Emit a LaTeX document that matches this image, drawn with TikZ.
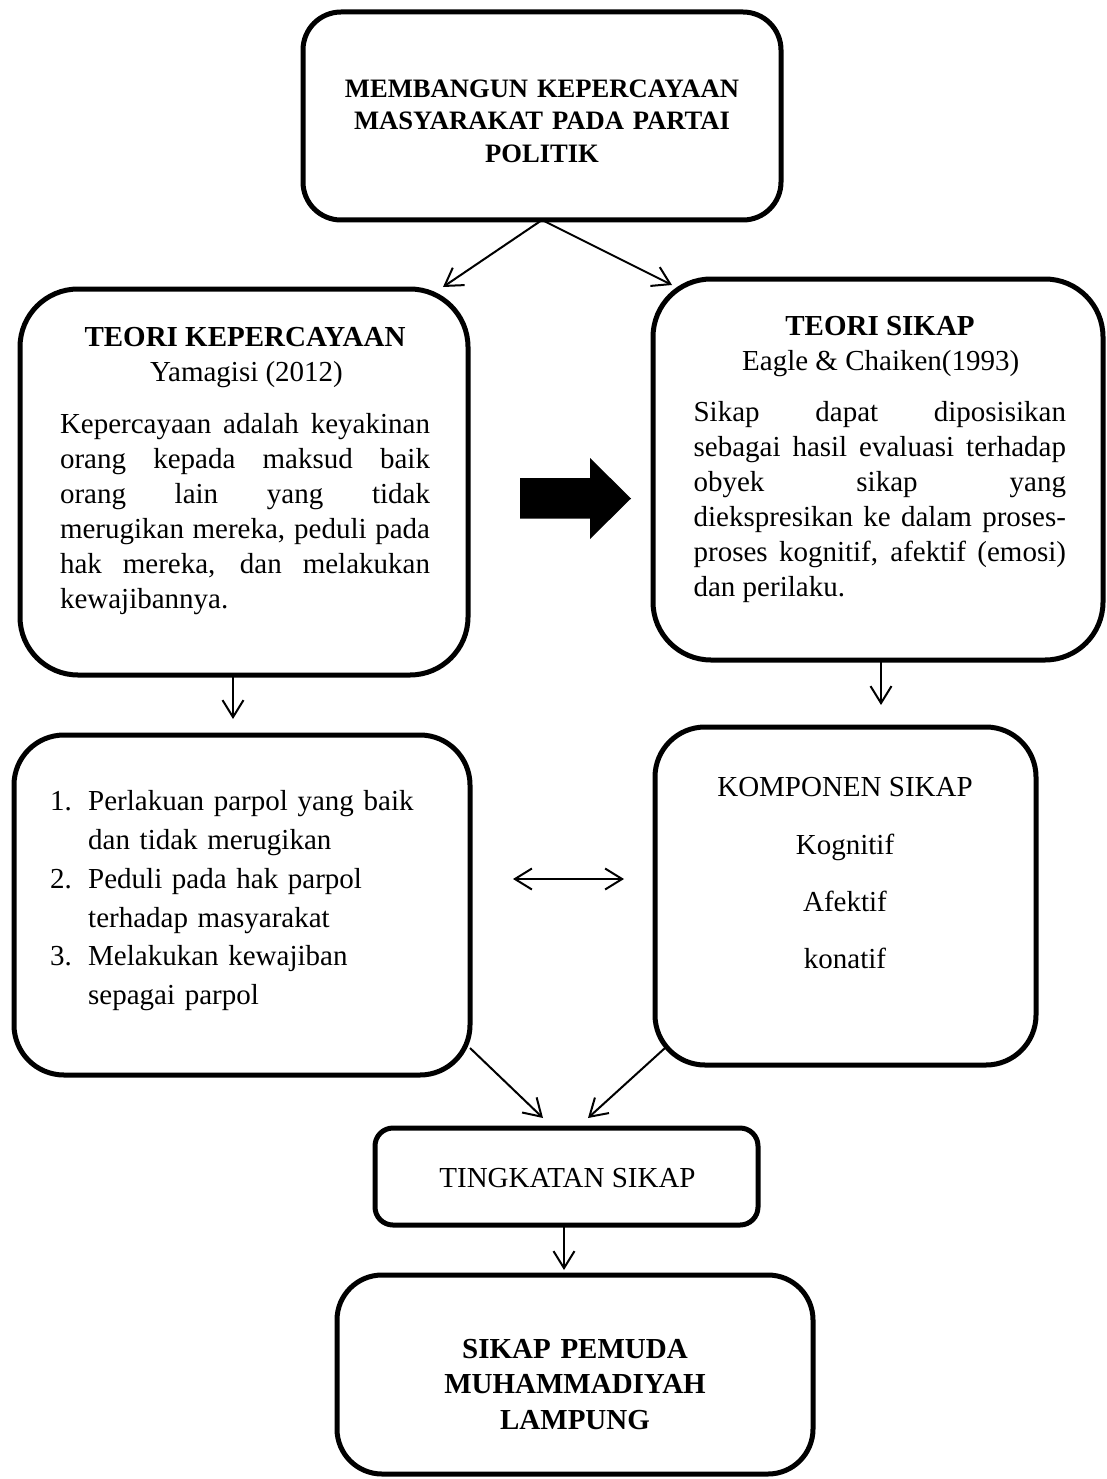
\documentclass[tikz,border=0pt]{standalone}
\usepackage{fontspec}
\setmainfont{Liberation Serif}
\usetikzlibrary{arrows.meta}
\begin{document}
\begin{tikzpicture}[x=1pt,y=-1pt,
  box/.style={draw, line width=5pt, inner sep=0pt, outer sep=0pt},
  conn/.style={line width=2pt, -{Straight Barb[length=17pt,width=21pt]}},
  dconn/.style={line width=2pt, {Straight Barb[length=17pt,width=21pt]}-{Straight Barb[length=17pt,width=21pt]}},
  txt/.style={inner sep=0pt, outer sep=0pt, font=\fontsize{29}{35}\selectfont},
  hd/.style={inner sep=0pt, outer sep=0pt, font=\fontsize{29}{35}\selectfont\bfseries},
  para/.style={inner sep=0pt, outer sep=0pt, font=\fontsize{29}{35}\selectfont, anchor=base west, align=justify}
]
\useasboundingbox (0,0) rectangle (1107,1479);

% boxes
\node[box, rounded corners=38pt, minimum width=478pt, minimum height=208pt] (top) at (542,116) {};
\node[box, rounded corners=58pt, minimum width=448pt, minimum height=386pt] (L1) at (244,482) {};
\node[box, rounded corners=58pt, minimum width=450pt, minimum height=381pt] (R1) at (878,469.5) {};
\node[box, rounded corners=50pt, minimum width=456pt, minimum height=340pt] (L2) at (242,905) {};
\node[box, rounded corners=50pt, minimum width=381pt, minimum height=338pt] (R2) at (845.5,896) {};
\node[box, rounded corners=18pt, minimum width=383pt, minimum height=97pt] (T) at (566.5,1176.5) {};
\node[box, rounded corners=45pt, minimum width=476pt, minimum height=199pt] (B) at (575,1374.5) {};

% top text
\node[inner sep=0pt, anchor=base, text width=460pt, align=center, font=\fontsize{26.6}{32.3}\selectfont\bfseries] (toptxt) at (542,97.5)
  {MEMBANGUN KEPERCAYAAN\\MASYARAKAT PADA PARTAI\\POLITIK};

% left theory
\node[hd, anchor=base] (h1) at (245,346.7) {TEORI KEPERCAYAAN};
\node[txt, anchor=base] (s1txt) at (246.5,381.7) {Yamagisi (2012)};
\node[para, text width=370pt] (p1) at (60,433)
  {Kepercayaan adalah keyakinan\linebreak orang kepada maksud baik\linebreak orang lain yang tidak\linebreak merugikan mereka, peduli pada\linebreak hak mereka, dan melakukan\linebreak kewajibannya.};

% right theory
\node[hd, anchor=base] (h2) at (880,335) {TEORI SIKAP};
\node[txt, anchor=base] (s2txt) at (880.7,370) {Eagle \& Chaiken(1993)};
\node[para, text width=372.4pt] (p2) at (693.6,421.7)
  {Sikap dapat diposisikan\linebreak sebagai hasil evaluasi terhadap\linebreak obyek sikap yang\linebreak diekspresikan ke dalam proses-\linebreak proses kognitif, afektif (emosi)\linebreak dan perilaku.};

% list
\node[inner sep=0pt, anchor=base west, text width=420pt, align=left, font=\fontsize{29}{38.8}\selectfont] (list) at (50,810.7)
  {\makebox[38pt][l]{1.}Perlakuan parpol yang baik\\
   \hspace*{38pt}dan tidak merugikan\\
   \makebox[38pt][l]{2.}Peduli pada hak parpol\\
   \hspace*{38pt}terhadap masyarakat\\
   \makebox[38pt][l]{3.}Melakukan kewajiban\\
   \hspace*{38pt}sepagai parpol};

% komponen
\node[txt, anchor=base] (k0) at (845,796.7) {KOMPONEN SIKAP};
\node[txt, anchor=base] (k1) at (845,854) {Kognitif};
\node[txt, anchor=base] (k2) at (845,911.7) {Afektif};
\node[txt, anchor=base] (k3) at (845,968) {konatif};

% tingkatan
\node[txt, anchor=base] (ttxt) at (567.5,1187) {TINGKATAN SIKAP};

% bottom
\node[inner sep=0pt, anchor=base, text width=460pt, align=center, font=\fontsize{29}{35.5}\selectfont\bfseries] (btxt) at (575,1358)
  {SIKAP PEMUDA\\MUHAMMADIYAH\\LAMPUNG};

% big arrow
\fill (520,478) -- (590,478) -- (590,458) -- (631,498.5) -- (590,539) -- (590,518.5) -- (520,518.5) -- cycle;

% connectors
\coordinate (a1) at (443,287);
\coordinate (a2) at (672,285);
\draw[conn] (top.south) -- (a1);
\draw[conn] (top.south) -- (a2);
\coordinate (a3) at (233,719);
\draw[conn] (L1.south -| a3) -- (a3);
\coordinate (a4) at (881,705);
\draw[conn] (R1.south -| a4) -- (a4);
\coordinate (d1) at (513,879);
\coordinate (d2) at (624,879);
\draw[dconn] (d1) -- (d2);
\coordinate (c1) at (470,1048);
\coordinate (t1) at (543,1118);
\draw[conn] (c1) -- (t1);
\coordinate (c2) at (665,1048);
\coordinate (t2) at (588,1118);
\draw[conn] (c2) -- (t2);
\coordinate (a5) at (564,1270);
\draw[conn] (T.south -| a5) -- (a5);
\end{tikzpicture}
\end{document}
